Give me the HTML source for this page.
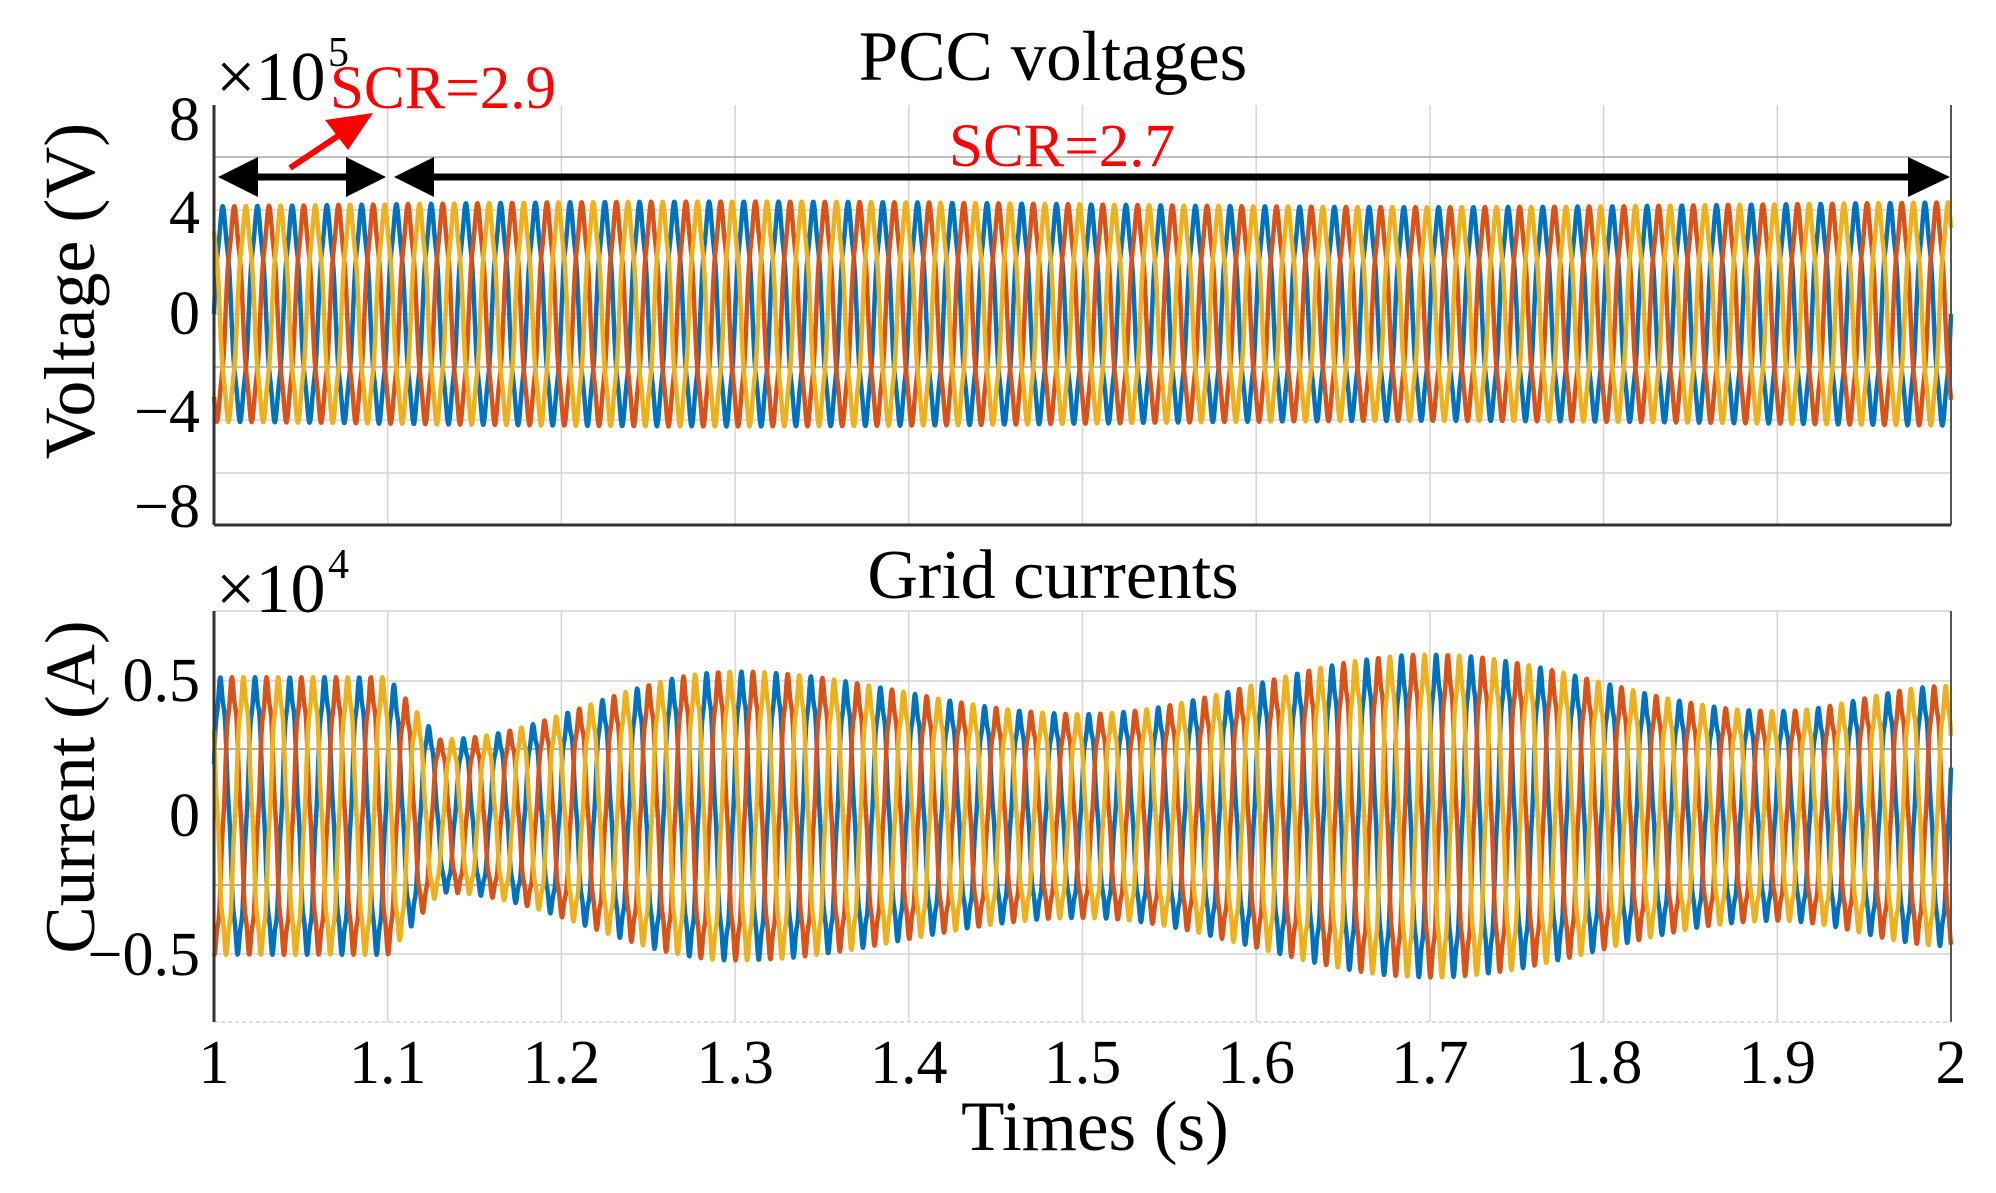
<!DOCTYPE html>
<html><head><meta charset="utf-8">
<style>
html,body{margin:0;padding:0;background:#fff;}
svg{display:block;}
text{font-family:"Liberation Serif",serif;}
</style></head>
<body>
<svg id="s" width="1996" height="1193" viewBox="0 0 1996 1193" xmlns="http://www.w3.org/2000/svg">
<g id="grid" stroke="#d4d4d4" stroke-width="1.5" fill="none"></g>
<g id="data" fill="none" stroke-width="4.5" stroke-linejoin="round"></g>
<g id="axes" stroke="#333" stroke-width="3" fill="none">
  <line x1="214" y1="105" x2="214" y2="525"/>
  <line x1="214" y1="525" x2="1951" y2="525"/>
  <line x1="1951" y1="105" x2="1951" y2="525" stroke="#555" stroke-width="2"/>
  <line x1="214" y1="611" x2="214" y2="1022"/>
  <line x1="1951" y1="611" x2="1951" y2="1022" stroke="#555" stroke-width="2"/>
</g>
<g stroke="#000" stroke-width="7" fill="#000">
  <line x1="240" y1="177" x2="362" y2="177"/>
  <polygon points="218,177 258,157 258,197" stroke="none"/>
  <polygon points="386,177 346,157 346,197" stroke="none"/>
  <line x1="420" y1="177" x2="1925" y2="177"/>
  <polygon points="394,177 434,157 434,197" stroke="none"/>
  <polygon points="1950,177 1908,157 1908,197" stroke="none"/>
</g>
<g stroke="#f00" stroke-width="6" fill="#f00">
  <line x1="290" y1="168" x2="350" y2="128"/>
  <polygon points="373,113 325,120 348,150" stroke="none"/>
</g>
<text x="330" y="108" font-size="61" fill="#f00">SCR=2.9</text>
<text x="1062" y="166" font-size="61" fill="#f00" text-anchor="middle">SCR=2.7</text>
<text x="1053" y="80" font-size="71" text-anchor="middle">PCC voltages</text>
<text x="1053" y="598" font-size="70" text-anchor="middle">Grid currents</text>
<text x="216" y="100" font-size="70">×10</text><text x="328" y="66" font-size="42">5</text>
<text x="216" y="612" font-size="70">×10</text><text x="328" y="578" font-size="42">4</text>
<g font-size="62" text-anchor="end">
  <text x="200" y="140">8</text>
  <text x="200" y="233">4</text>
  <text x="200" y="334">0</text>
  <text x="200" y="432">−4</text>
  <text x="200" y="527">−8</text>
  <text x="200" y="701">0.5</text>
  <text x="200" y="836">0</text>
  <text x="200" y="975">−0.5</text>
</g>
<text transform="translate(94,291) rotate(-90)" font-size="72" text-anchor="middle">Voltage (V)</text>
<text transform="translate(94,787) rotate(-90)" font-size="71" text-anchor="middle">Current (A)</text>
<g id="xl" font-size="62" text-anchor="middle"></g>
<text x="1095" y="1150" font-size="71" text-anchor="middle">Times (s)</text>
</svg>
<script>
var L=214,R=1951,W=R-L,NS="http://www.w3.org/2000/svg";
function el(p,t,a){var e=document.createElementNS(NS,t);for(var k in a)e.setAttribute(k,a[k]);p.appendChild(e);return e;}
var g=document.getElementById('grid'),xl=document.getElementById('xl');
for(var i=0;i<=10;i++){var x=L+W*i/10;
 if(i>0&&i<10){el(g,'line',{x1:x,y1:105,x2:x,y2:525});el(g,'line',{x1:x,y1:611,x2:x,y2:1022});}
 var t=el(xl,'text',{x:x,y:1083});t.textContent=(i==0?'1':i==10?'2':(1+i/10).toFixed(1));}
[157,210,314,367,420,473].forEach(function(y){el(g,'line',{x1:L,y1:y,x2:R,y2:y,stroke:(y==157||y==367)?'#aaa':'#d4d4d4'});});
[611,681,749,816,885,954].forEach(function(y){el(g,'line',{x1:L,y1:y,x2:R,y2:y,stroke:(y==749||y==885)?'#999':'#d4d4d4'});});
el(g,'line',{x1:L,y1:1022,x2:R,y2:1022,'stroke-dasharray':'4 3'});
var d=document.getElementById('data'),cols=['#0072BD','#D95319','#EDB120'];
function envI(t){
 if(t<1.1)return 0.49;
 if(t<1.13)return 0.49-(t-1.1)/0.03*0.22;
 var pts=[[1.13,0.27],[1.3,0.51],[1.5,0.36],[1.7,0.57],[1.9,0.37],[2.0,0.46]];
 for(var k=0;k<pts.length-1;k++){var a=pts[k],b=pts[k+1];if(t<=b[0]){var u=(t-a[0])/(b[0]-a[0]);u=(1-Math.cos(Math.PI*u))/2;return a[1]+(b[1]-a[1])*u;}}
 return 0.46;}
function envV(t){return 3.95+0.1*Math.sin(2*Math.PI*(t-1.1)/0.8);}
for(var p=0;p<3;p++){
 var sv='',si='';
 for(var x=0;x<=W;x+=0.5){var t=1+x/W,ph=2*Math.PI*50*t-p*2*Math.PI/3;
  var v=envV(t)*(Math.sin(ph)+0.06*Math.sin(5*ph));
  sv+=(L+x).toFixed(1)+','+(314-26.2*v).toFixed(1)+' ';
  var c=envI(t)*(Math.sin(ph+0.4)+0.05*Math.sin(7*ph));
  si+=(L+x).toFixed(1)+','+(816-270*c).toFixed(1)+' ';}
 el(d,'polyline',{points:sv,stroke:cols[p]});el(d,'polyline',{points:si,stroke:cols[p]});}
</script>
</body></html>
